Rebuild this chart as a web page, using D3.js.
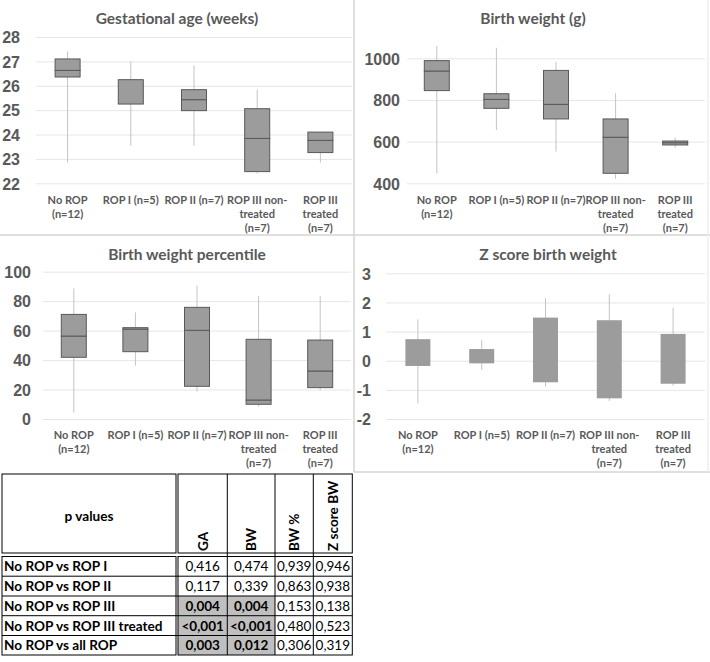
<!DOCTYPE html>
<html>
<head>
    <meta charset="utf-8">
    <title>ROP box plots</title>
    <style>
        body { margin: 0; background: #fff; }
        svg { display: block; font-family: Lato, "Open Sans", sans-serif; }
        .title { font-size: 15.5px; font-weight: bold; fill: #595959; text-anchor: middle; }
        .tick text { font-size: 16px; font-weight: bold; fill: #595959; }
        .tick line { stroke: #e6e6e6; }
        .cat { font-size: 11px; font-weight: bold; fill: #595959; text-anchor: middle; }
        .tbl { font-size: 13.6px; fill: #000; }
        .val { font-size: 13.5px; fill: #000; }
    </style>
</head>
<body>
<script src="https://d3js.org/d3.v7.min.js"></script>
<script>
// categories (one array of lines per x label)
var catLabels = [["No ROP", "(n=12)"], ["ROP I (n=5)"], ["ROP II (n=7)"],
                 ["ROP III  non-", "treated", "(n=7)"], ["ROP III", "treated", "(n=7)"]];

// gestational age (weeks)
var gaMin = [22.85, 23.54, 23.54, 22.40, 22.85];
var gaQ1  = [26.36, 25.25, 24.98, 22.48, 23.26];
var gaMed = [26.63, 26.25, 25.43, 23.84, 23.76];
var gaQ3  = [27.10, 26.25, 25.84, 25.06, 24.10];
var gaMax = [27.41, 27.00, 26.84, 25.84, 24.10];
var gaTicks = [22, 23, 24, 25, 26, 27, 28];

// birth weight (g)
var bwMin = [448, 656, 552, 421, 571];
var bwQ1  = [845, 760, 709, 448, 584];
var bwMed = [939, 803, 779, 621, 595];
var bwQ3  = [989, 830, 942, 709, 603];
var bwMax = [1059, 1051, 984, 832, 619];
var bwTicks = [400, 600, 800, 1000];

// birth weight percentile
var bwpMin = [4.5, 36.2, 18.6, 8.4, 19.5];
var bwpQ1  = [41.9, 45.7, 22.2, 10.0, 21.3];
var bwpMed = [56.3, 61.0, 60.2, 12.9, 32.6];
var bwpQ3  = [71.0, 62.0, 75.8, 54.1, 53.6];
var bwpMax = [88.7, 72.4, 90.5, 83.5, 83.5];
var bwpTicks = [0, 20, 40, 60, 80, 100];

// z score birth weight (no median drawn)
var zMin = [-1.46, -0.32, -0.89, -1.38, -0.86];
var zQ1  = [-0.18, -0.09, -0.74, -1.29, -0.79];
var zQ3  = [0.74, 0.40, 1.48, 1.39, 0.92];
var zMax = [1.42, 0.71, 2.14, 2.28, 1.82];
var zTicks = [-2, -1, 0, 1, 2, 3];

// p value table
var pRows = ["No ROP vs ROP I", "No ROP vs ROP II", "No ROP vs ROP III",
             "No ROP vs ROP III treated", "No ROP vs all ROP"];
var pCols = ["GA", "BW", "BW %", "Z score BW"];
var pGA  = ["0,416", "0,117", "0,004", "<0,001", "0,003"];
var pBW  = ["0,474", "0,339", "0,004", "<0,001", "0,012"];
var pBWP = ["0,939", "0,863", "0,153", "0,480", "0,306"];
var pZ   = ["0,946", "0,938", "0,138", "0,523", "0,319"];

var svg = d3.select("body").append("svg").attr("width", 710).attr("height", 662);

// panel dividers
var div = svg.append("g").attr("stroke", "#d4d4d4").attr("stroke-width", 1.5);
div.append("line").attr("x1", 354).attr("x2", 354).attr("y1", 0).attr("y2", 472);
div.append("line").attr("x1", 0).attr("x2", 710).attr("y1", 235).attr("y2", 235);
div.append("line").attr("x1", 354).attr("x2", 710).attr("y1", 472).attr("y2", 472);
div.append("line").attr("x1", 708).attr("x2", 708).attr("y1", 0).attr("y2", 472).attr("stroke", "#eee");

function boxPanel(p) {
    var x = d3.scaleBand().domain(d3.range(catLabels.length)).range([p.x0, p.x1]);
    var y = d3.scaleLinear().domain(p.domain).range([p.yBottom, p.yTop]);
    var g = svg.append("g");

    g.append("text").attr("class", "title").attr("x", p.titleX).attr("y", p.titleY).text(p.title);

    var ax = g.append("g").attr("transform", "translate(" + p.x0 + ",0)")
        .call(d3.axisLeft(y).tickValues(p.ticks).tickSize(-(p.x1 - p.x0)).tickPadding(p.pad)
            .tickFormat(function(d) { return String(d); }));
    ax.select(".domain").remove();
    ax.selectAll(".tick text").attr("dy", "0.36em");

    var bw = 25;
    var cx = function(i) { return x(i) + x.bandwidth() / 2; };
    var idx = d3.range(catLabels.length);

    // whiskers
    g.selectAll(".wh").data(idx).join("line")
        .attr("x1", cx).attr("x2", cx)
        .attr("y1", function(i) { return y(p.hi[i]); })
        .attr("y2", function(i) { return y(p.lo[i]); })
        .attr("stroke", "#c4c4c4").attr("stroke-width", 1);

    var stroke = p.med ? "#595959" : "none";
    var mid = p.med || p.q1;
    g.selectAll(".lowbox").data(idx).join("rect")
        .attr("x", function(i) { return cx(i) - bw / 2; })
        .attr("width", bw)
        .attr("y", function(i) { return y(mid[i]); })
        .attr("height", function(i) { return y(p.q1[i]) - y(mid[i]); })
        .attr("fill", "#9c9c9c").attr("stroke", stroke);
    g.selectAll(".highbox").data(idx).join("rect")
        .attr("x", function(i) { return cx(i) - bw / 2; })
        .attr("width", bw)
        .attr("y", function(i) { return y(p.q3[i]); })
        .attr("height", function(i) { return y(mid[i]) - y(p.q3[i]); })
        .attr("fill", "#9c9c9c").attr("stroke", stroke);

    // category labels
    var lab = g.selectAll(".cat").data(idx).join("text").attr("class", "cat")
        .attr("x", cx).attr("y", p.labelY);
    lab.selectAll("tspan").data(function(i) { return catLabels[i]; }).join("tspan")
        .attr("x", function() { return cx(d3.select(this.parentNode).datum()); })
        .attr("dy", function(d, j) { return j ? 14.2 : 0; })
        .text(function(d) { return d; });
}

boxPanel({ title: "Gestational age (weeks)", titleX: 177, titleY: 24,
    x0: 36, x1: 352, yTop: 37, yBottom: 183.3, domain: [22, 28], ticks: gaTicks, pad: 16,
    labelY: 204, lo: gaMin, q1: gaQ1, med: gaMed, q3: gaQ3, hi: gaMax });

boxPanel({ title: "Birth weight (g)", titleX: 533, titleY: 24,
    x0: 407, x1: 705, yTop: 37.5, yBottom: 183.3, domain: [400, 1100], ticks: bwTicks, pad: 7,
    labelY: 204, lo: bwMin, q1: bwQ1, med: bwMed, q3: bwQ3, hi: bwMax });

boxPanel({ title: "Birth weight percentile", titleX: 187, titleY: 260,
    x0: 43, x1: 351, yTop: 271.7, yBottom: 419, domain: [0, 100], ticks: bwpTicks, pad: 12,
    labelY: 439, lo: bwpMin, q1: bwpQ1, med: bwpMed, q3: bwpQ3, hi: bwpMax });

boxPanel({ title: "Z score birth weight", titleX: 548, titleY: 260,
    x0: 386, x1: 705, yTop: 273.3, yBottom: 419, domain: [-2, 3], ticks: zTicks, pad: 15,
    labelY: 439, lo: zMin, q1: zQ1, med: null, q3: zQ3, hi: zMax });

// ---- p value table ----
var colEdges = [178, 227.3, 275, 313.3, 352.3];
var rowEdges = [556.5, 576.2, 596, 615.7, 635.5, 655];
var cols = [pGA, pBW, pBWP, pZ];
var isSig = function(s) { return +s.replace("<", "").replace(",", ".") < 0.05; };

var t = svg.append("g");
// shaded cells for significant p values
cols.forEach(function(col, c) {
    col.forEach(function(v, r) {
        if (!isSig(v)) return;
        t.append("rect").attr("x", colEdges[c]).attr("width", colEdges[c + 1] - colEdges[c])
            .attr("y", rowEdges[r]).attr("height", rowEdges[r + 1] - rowEdges[r]).attr("fill", "#bfbfbf");
    });
});

var lines = t.append("g").attr("stroke", "#000").attr("stroke-width", 1).attr("fill", "none");
lines.append("rect").attr("x", 2).attr("y", 474).attr("width", 174).attr("height", 79);
lines.append("rect").attr("x", 178).attr("y", 474).attr("width", 174.3).attr("height", 79);
colEdges.slice(1, -1).forEach(function(cx) {
    lines.append("line").attr("x1", cx).attr("x2", cx).attr("y1", 474).attr("y2", 655);
});
lines.append("rect").attr("x", 2).attr("y", 556.5).attr("width", 174).attr("height", 98.5);
lines.append("rect").attr("x", 178).attr("y", 556.5).attr("width", 174.3).attr("height", 98.5);
rowEdges.slice(1, -1).forEach(function(ry) {
    lines.append("line").attr("x1", 2).attr("x2", 352.3).attr("y1", ry).attr("y2", ry);
});

t.append("text").attr("class", "tbl").attr("x", 89).attr("y", 521)
    .attr("text-anchor", "middle").attr("font-weight", "bold").text("p values");

pCols.forEach(function(h, c) {
    var hx = (colEdges[c] + colEdges[c + 1]) / 2 + 5;
    t.append("text").attr("class", "tbl").attr("font-weight", "bold")
        .attr("transform", "translate(" + hx + ",551) rotate(-90)").text(h);
});

pRows.forEach(function(name, r) {
    var ty = (rowEdges[r] + rowEdges[r + 1]) / 2 + 5;
    t.append("text").attr("class", "tbl").attr("font-weight", "bold").attr("x", 4).attr("y", ty).text(name);
    cols.forEach(function(col, c) {
        t.append("text").attr("class", "val")
            .attr("x", (colEdges[c] + colEdges[c + 1]) / 2).attr("y", ty)
            .attr("text-anchor", "middle")
            .attr("font-weight", isSig(col[r]) ? "bold" : "normal")
            .text(col[r]);
    });
});
</script>
</body>
</html>
